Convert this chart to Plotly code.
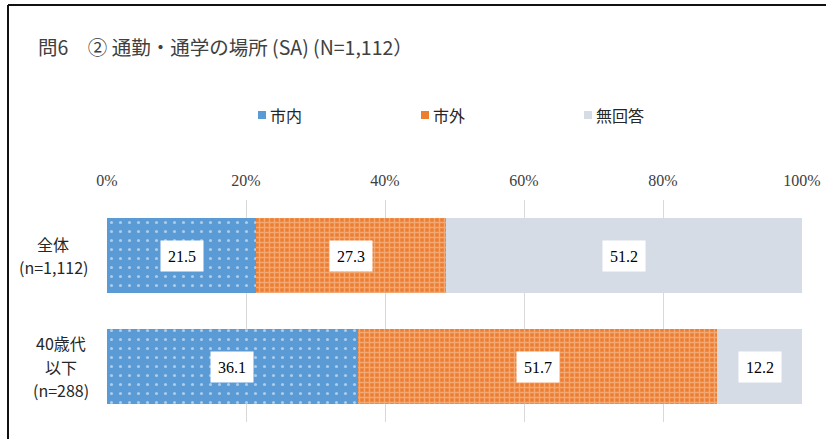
import plotly.graph_objects as go

# Survey results: Q6-2 place of work / school (single answer)
categories = ["全体<br>(n=1,112)", "40歳代<br>以下<br>(n=288)"]
series_names = ["市内", "市外", "無回答"]
shinai = [21.5, 36.1]
shigai = [27.3, 51.7]
mukaitou = [51.2, 12.2]
tick_vals = [0, 20, 40, 60, 80, 100]
tick_text = ["0%", "20%", "40%", "60%", "80%", "100%"]
title_text = "問6　② 通勤・通学の場所 (SA) (N=1,112）"

series_values = [shinai, shigai, mukaitou]
series_colors = ["#5B9BD5", "#ED7D31", "#D6DCE5"]
patterns = [
    dict(shape=".", fgcolor="#FFFFFF", bgcolor="#5B9BD5", size=9, solidity=0.09),
    dict(shape="+", fgcolor="#F8D3B5", bgcolor="#ED7D31", size=5, solidity=0.5),
    None,
]

W, H = 826, 439
L, R, T, B = 107, 24, 200, 17
pw, ph = W - L - R, H - T - B

# horizontal centres of the category label blocks, and their line pitch
label_centres = [53, 61]
label_pitch = 23.5


def px_x(px):
    """Pixel column -> paper x."""
    return (px - L) / pw


def px_y(py):
    """Pixel row (from top) -> paper y."""
    return (H - B - py) / ph


fig = go.Figure()
for name, vals, col, pat in zip(series_names, series_values, series_colors, patterns):
    marker = dict(color=col, line=dict(width=0))
    if pat:
        marker["pattern"] = pat
    fig.add_trace(go.Bar(
        y=categories, x=vals, name=name, orientation="h",
        marker=marker, hoverinfo="skip", showlegend=False,
    ))

annotations = []
shapes = []

# value labels in white boxes at the middle of each segment
for i, cat in enumerate(categories):
    left = 0.0
    for vals in series_values:
        v = vals[i]
        annotations.append(dict(
            x=left + v / 2, y=cat, xref="x", yref="y", text=f"{v:.1f}",
            showarrow=False, bgcolor="#FFFFFF", width=40, height=28,
            align="center", valign="middle",
            font=dict(family="Liberation Serif", size=16, color="#000000"),
        ))
        left += v

# category labels, one centred line at a time
for cat, cx in zip(categories, label_centres):
    lines = cat.split("<br>")
    n = len(lines)
    for k, line in enumerate(lines):
        annotations.append(dict(
            x=px_x(cx), xref="paper", y=cat, yref="y", text=line,
            xanchor="center", yanchor="middle", showarrow=False,
            yshift=((n - 1) / 2 - k) * label_pitch,
            font=dict(family="Noto Sans CJK JP", size=16, color="#262626"),
        ))

# chart title
annotations.append(dict(
    x=px_x(36), xref="paper", y=px_y(46), yref="paper",
    text=title_text, xanchor="left", yanchor="middle", showarrow=False,
    font=dict(family="Noto Sans CJK JP", size=19.5, color="#404040"),
))

# legend: small square swatches followed by series names
legend_x = [258, 421, 584]
for name, col, lx in zip(series_names, series_colors, legend_x):
    shapes.append(dict(
        type="rect", xref="paper", yref="paper",
        x0=px_x(lx), x1=px_x(lx + 8), y0=px_y(119), y1=px_y(111),
        fillcolor=col, line=dict(width=0),
    ))
    annotations.append(dict(
        x=px_x(lx + 10), xref="paper", y=px_y(115), yref="paper",
        text=name, xanchor="left", yanchor="middle", showarrow=False,
        font=dict(family="Noto Sans CJK JP", size=16, color="#262626"),
    ))

# outer frame (top and left edges visible)
shapes += [
    dict(type="line", xref="paper", yref="paper",
         x0=px_x(8), x1=px_x(W + 10), y0=px_y(5), y1=px_y(5),
         line=dict(color="#111111", width=2)),
    dict(type="line", xref="paper", yref="paper",
         x0=px_x(8), x1=px_x(8), y0=px_y(5), y1=px_y(H + 10),
         line=dict(color="#111111", width=2)),
]

fig.update_layout(
    width=W, height=H,
    margin=dict(l=L, r=R, t=T, b=B, autoexpand=False),
    paper_bgcolor="#FFFFFF", plot_bgcolor="#FFFFFF",
    barmode="stack", bargap=0.325,
    showlegend=False,
    annotations=annotations,
    shapes=shapes,
    xaxis=dict(
        side="top", range=[0, 100], tickvals=tick_vals, ticktext=tick_text,
        showgrid=True, gridcolor="#D9D9D9", gridwidth=1, automargin=False,
        zeroline=False, showline=False, ticks="", ticklabelstandoff=10,
        tickfont=dict(family="Liberation Serif", size=16, color="#404040"),
        fixedrange=True,
    ),
    yaxis=dict(
        autorange="reversed", showticklabels=False, showgrid=False,
        zeroline=False, showline=False, ticks="", fixedrange=True,
        automargin=False,
    ),
)

fig.write_html("out.html")
